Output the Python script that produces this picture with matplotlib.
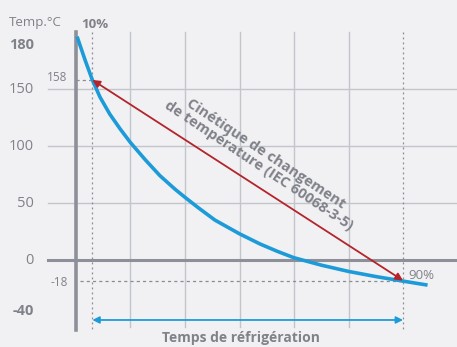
import matplotlib
matplotlib.use('Agg')
import matplotlib.pyplot as plt
import numpy as np

# --- data ---
time_x = [0.02, 0.17, 0.3, 0.44, 0.62, 0.81, 1.0, 1.27, 1.54, 1.82, 2.0,
          2.24, 2.55, 3.0, 3.38, 3.7, 4.0, 4.5, 5.0, 5.5, 6.0, 6.45]
temp_c = [196, 175, 158, 143, 128, 115, 103, 88, 74, 62, 55,
          46, 35, 23, 14, 7.5, 2, -4.5, -10, -14.5, -18.5, -22]
grid_x = [1, 2, 3, 4, 5]
grid_y = [150, 100, 50]
ytick_vals = [180, 150, 100, 50, 0, -40]
ytick_bold = [True, False, False, False, False, True]
t10, t90 = 0.3, 6.0
temp10, temp90 = 158, -18

BG = '#f1f1f3'
GRID = '#c3c5cb'
AXIS = '#8e9099'
TXT = '#808289'
BLUE = '#1d9bd8'
RED = '#b3242b'
FONT = 'Open Sans'

fig = plt.figure(figsize=(4.57, 3.47), dpi=100, facecolor=BG)
ax = fig.add_axes([0, 0, 1, 1])
ax.set_facecolor(BG)
ax.set_xlim(-1.394, 6.99)
ax.set_ylim(-76.3, 228.1)
ax.axis('off')

ytop, ybot = 200, -61
# grid
for gx in grid_x:
    ax.plot([gx, gx], [ytop, -59], color=GRID, lw=1, zorder=1)
for gy in grid_y:
    ax.plot([-0.51, 7], [gy, gy], color=GRID, lw=1, zorder=1)
ax.plot([-0.51, 7], [0, 0], color=AXIS, lw=2.2, zorder=2)
ax.plot([0, 0], [ytop, -61], color=AXIS, lw=2.6, zorder=3)

# 10% / 90% markers
for vx in (t10, t90):
    ax.plot([vx, vx], [ytop, ybot], color='#8a8c94', lw=0.9, ls=(0, (1.5, 2.5)), zorder=2)
ax.plot([0, t10], [temp10, temp10], color='#8a8c94', lw=0.9, ls=(0, (2.5, 2.5)), zorder=2)
ax.plot([0.07, t90], [temp90, temp90], color='#8a8c94', lw=0.9, ls=(0, (2.5, 2.5)), zorder=2)

# cooling curve
ax.plot(time_x, temp_c, color=BLUE, lw=2.6, solid_capstyle='butt',
        solid_joinstyle='round', zorder=5)

# red kinetic arrow
ax.annotate('', xy=(t10, temp10), xytext=(t90, temp90),
            arrowprops=dict(arrowstyle='<|-|>', color=RED, lw=1.3,
                            mutation_scale=11, shrinkA=0, shrinkB=0), zorder=6)
ax.text(3.42, 88, 'Cinétique de changement\nde température (IEC 60068-3-5)',
        rotation=-33.5, rotation_mode='anchor', ha='center', va='center',
        multialignment='center', color=TXT, fontsize=10.5, fontweight='bold',
        family=FONT, linespacing=1.0, zorder=7)

# blue time arrow
ax.annotate('', xy=(t10, -52.6), xytext=(t90, -52.6),
            arrowprops=dict(arrowstyle='<|-|>', color=BLUE, lw=1.3,
                            mutation_scale=10, shrinkA=0, shrinkB=0), zorder=6)
ax.text(3.03, -68.5, 'Temps de réfrigération', ha='center', va='center',
        color=TXT, fontsize=10, fontweight='bold', family=FONT)

# labels
ax.text(-0.75, 208.5, 'Temp.°C', ha='center', va='center', color=TXT,
        fontsize=9.5, family=FONT)
ax.text(0.35, 207, '10%', ha='center', va='center', color=TXT,
        fontsize=9.5, fontweight='bold', family=FONT)
ax.text(6.33, -14, '90%', ha='center', va='center', color=TXT,
        fontsize=9.5, family=FONT)
for val, bold in zip(ytick_vals, ytick_bold):
    ypos = val + 8.6 if val == 180 else (val - 4.7 if val == -40 else val)
    ax.text(-0.77, ypos, str(val), ha='right', va='center', color=TXT,
            fontsize=10.5, fontweight='bold' if bold else 'normal', family=FONT)
ax.text(-0.35, 160, str(temp10), ha='center', va='center', color=TXT,
        fontsize=8.5, family=FONT)
ax.text(-0.31, -20, str(temp90), ha='center', va='center', color=TXT,
        fontsize=8.5, family=FONT)

fig.savefig('out.png', dpi=100, facecolor=BG)
